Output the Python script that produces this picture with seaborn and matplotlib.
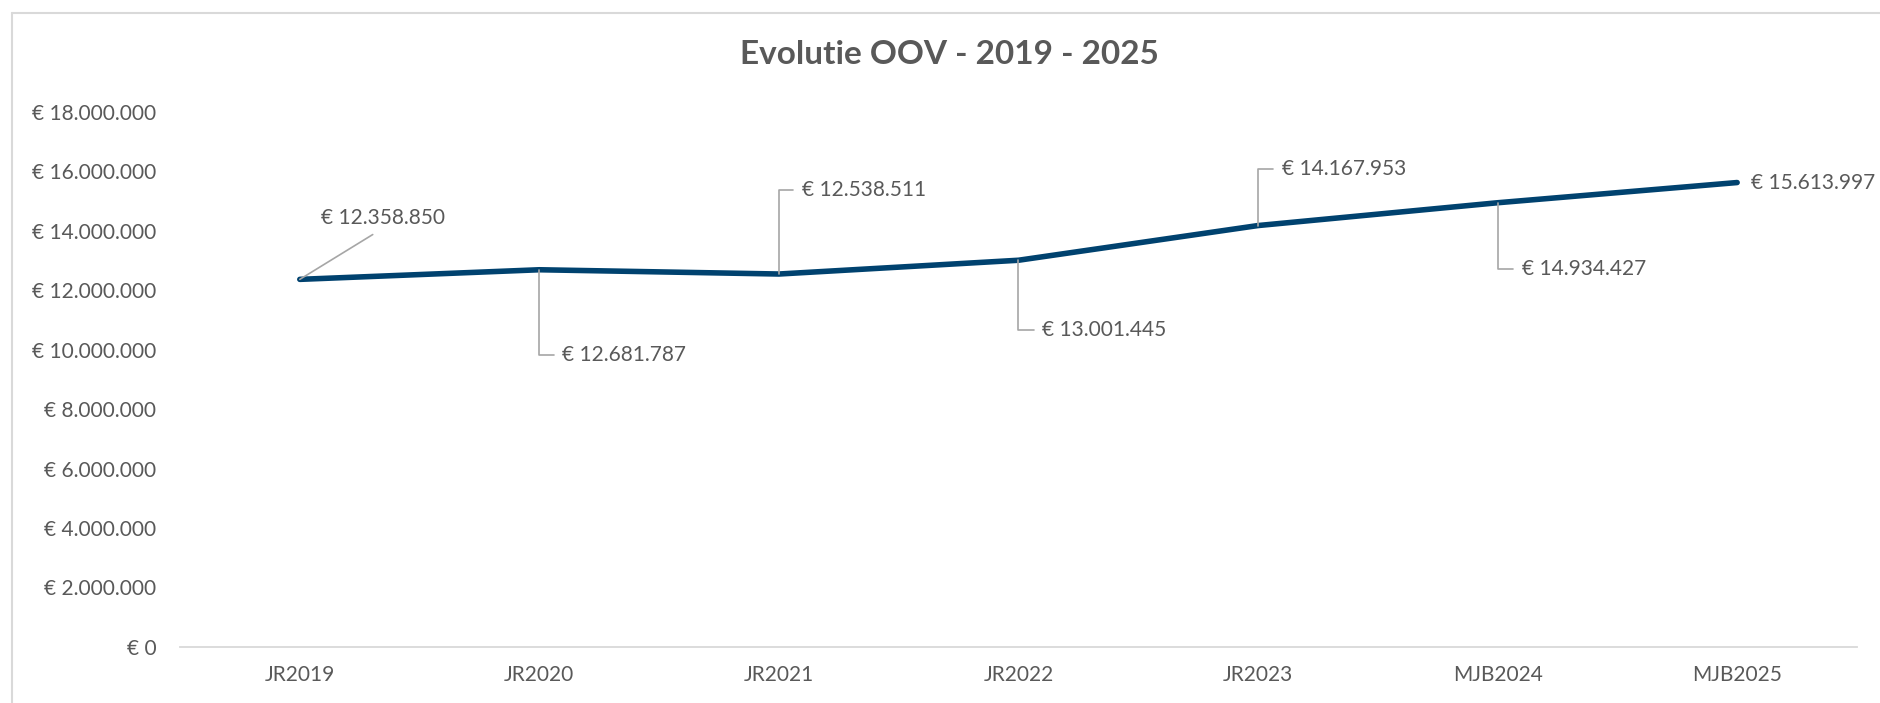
import matplotlib
matplotlib.use('Agg')
import matplotlib.pyplot as plt
from matplotlib.lines import Line2D
from matplotlib.ticker import FuncFormatter, MultipleLocator
import seaborn as sns
import pandas as pd

sns.set_style('white')
plt.rcParams['font.family'] = ['Lato', 'DejaVu Sans']

# data
periods = ['JR2019', 'JR2020', 'JR2021', 'JR2022', 'JR2023', 'MJB2024', 'MJB2025']
oov = [12358850, 12681787, 12538511, 13001445, 14167953, 14934427, 15613997]

# label placement (offset in pixels from each point)
label_offsets = [(83, 61), (23, -85), (23, 84), (24, -70), (24, 57), (24, -66), (14, 0)]

LINE = '#00426F'
TEXT = '#595959'
GREY = '#A6A6A6'
FS = 15


def euro(v, pos=None):
    return '€ ' + f'{int(round(v)):,}'.replace(',', '.')


df = pd.DataFrame({'periode': periods, 'oov': oov})

fig = plt.figure(figsize=(18.81, 7.03), dpi=100)
ax = fig.add_axes([0.0957, 0.0797, 0.9915 - 0.0957 - 0.0043, 0.8413 - 0.0797])

sns.lineplot(data=df, x='periode', y='oov', ax=ax, color=LINE, linewidth=4,
             sort=False, solid_capstyle='round', solid_joinstyle='round')

ax.set_xlim(-0.5, len(periods) - 0.5)
ax.set_ylim(0, 18000000)
ax.yaxis.set_major_locator(MultipleLocator(2000000))
ax.yaxis.set_major_formatter(FuncFormatter(euro))
ax.set_xlabel('')
ax.set_ylabel('')
ax.tick_params(axis='y', length=0, pad=17, labelsize=FS, labelcolor=TEXT)
ax.tick_params(axis='x', length=0, pad=13, labelsize=FS, labelcolor=TEXT)
for side in ['top', 'right', 'left']:
    ax.spines[side].set_visible(False)
ax.spines['bottom'].set_color('#D9D9D9')
ax.spines['bottom'].set_linewidth(1.3)

# data labels with leader lines
for i, (v, (dx, dy)) in enumerate(zip(oov, label_offsets)):
    if i == 0:
        ax.annotate(euro(v), xy=(i, v), xytext=(dx, dy), textcoords='offset pixels',
                    ha='center', va='center', fontsize=FS, color=TEXT,
                    arrowprops=dict(arrowstyle='-', color=GREY, lw=1.2,
                                    relpos=(0.5, 0), shrinkA=4, shrinkB=0))
    elif i == len(oov) - 1:
        ax.annotate(euro(v), xy=(i, v), xytext=(dx, dy), textcoords='offset pixels',
                    ha='left', va='center', fontsize=FS, color=TEXT)
    else:
        ax.annotate(euro(v), xy=(i, v), xytext=(dx, dy), textcoords='offset pixels',
                    ha='left', va='center', fontsize=FS, color=TEXT,
                    arrowprops=dict(arrowstyle='-', color=GREY, lw=1.2,
                                    connectionstyle='angle,angleA=0,angleB=90,rad=0',
                                    relpos=(0, 0.5), shrinkA=4, shrinkB=0))

fig.text(0.505, 0.922, 'Evolutie OOV - 2019 - 2025', ha='center', va='center',
         fontsize=24, fontweight='bold', color=TEXT)

# chart frame (only left and top edges fall inside the picture)
fig.add_artist(Line2D([0.0064, 0.0064], [0, 0.9815], transform=fig.transFigure,
                      color='#D9D9D9', lw=1.5))
fig.add_artist(Line2D([0.0064, 1], [0.9815, 0.9815], transform=fig.transFigure,
                      color='#D9D9D9', lw=1.5))

plt.savefig('out.png', dpi=100)
plt.close()
